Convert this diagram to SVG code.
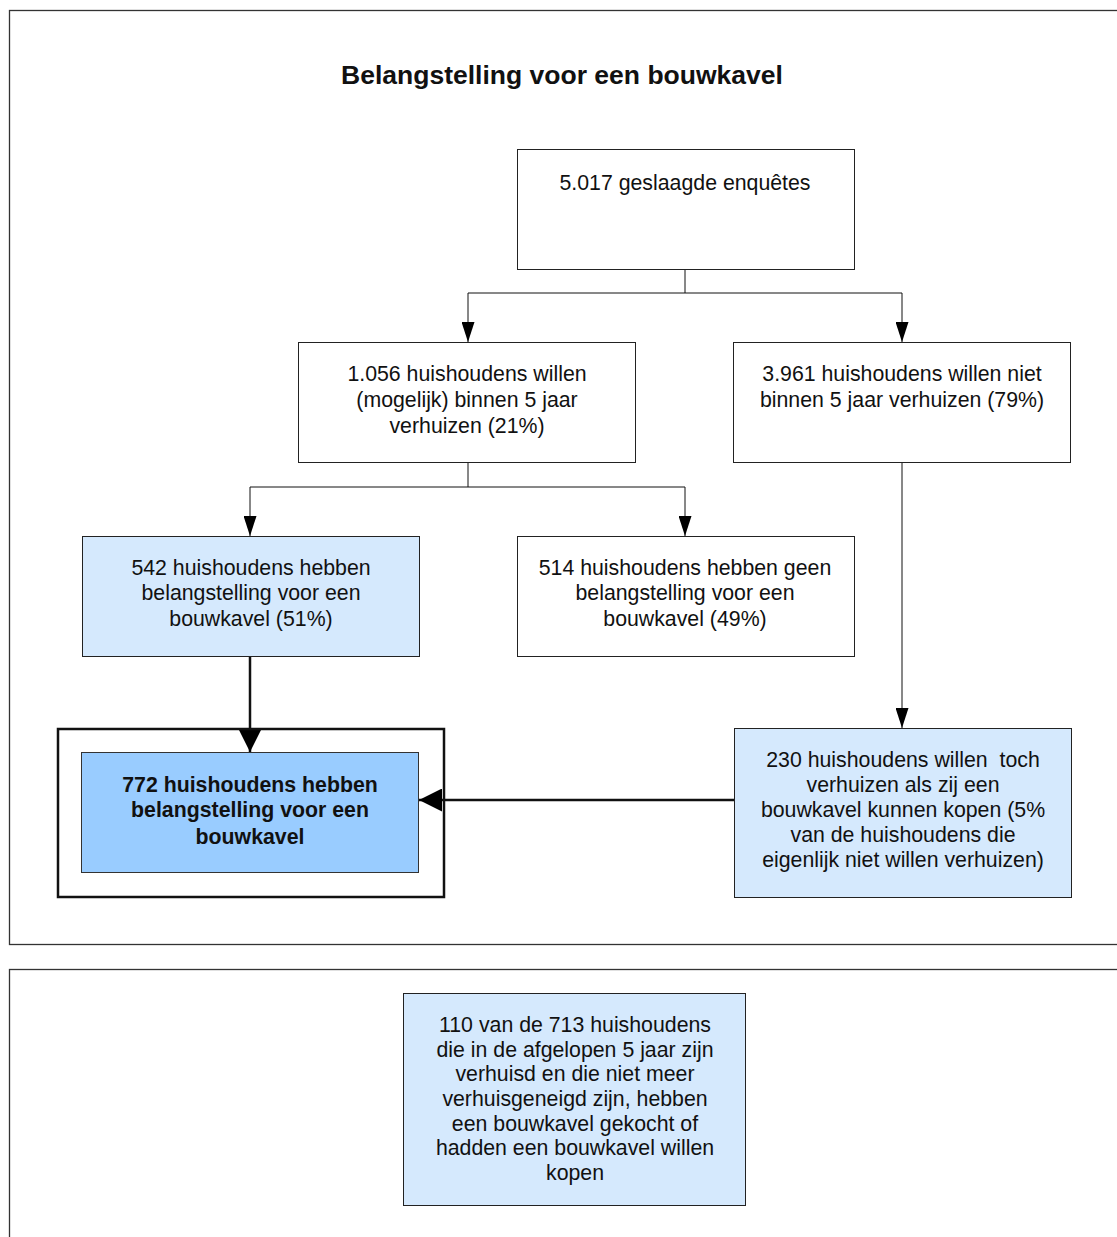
<svg xmlns="http://www.w3.org/2000/svg" width="1117" height="1237" viewBox="0 0 1117 1237">
<defs>
<style>
text{font-family:"Liberation Sans",Arial,sans-serif;font-size:21.3px;fill:#111;text-anchor:middle}
.b{fill:#fff;stroke:#222;stroke-width:1}
.lb{fill:#d5e9fd;stroke:#222;stroke-width:1}
.db{fill:#99ccff;stroke:#333;stroke-width:1}
.frame{fill:none;stroke:#333;stroke-width:1.3}
.c{fill:none;stroke:#111;stroke-width:1}
.ct{fill:none;stroke:#111;stroke-width:2.5}
.bold{font-weight:bold}
</style>
<marker id="a" viewBox="0 0 20 13" refX="20" refY="6.5" markerWidth="20" markerHeight="13" markerUnits="userSpaceOnUse" orient="auto"><path d="M0,0L20,6.5L0,13Z" fill="#000"/></marker>
<marker id="A" viewBox="0 0 23 23" refX="23" refY="11.5" markerWidth="23" markerHeight="23" markerUnits="userSpaceOnUse" orient="auto"><path d="M0,0L23,11.5L0,23Z" fill="#000"/></marker>
</defs>
<rect x="0" y="0" width="1117" height="1237" fill="#fff"/>
<rect class="frame" x="9.5" y="10.5" width="1120" height="934"/>
<rect class="frame" x="9.5" y="969.5" width="1120" height="280"/>
<text class="bold" x="562" y="84" style="font-size:26.5px">Belangstelling voor een bouwkavel</text>
<g id="connectors">
<path class="c" d="M685,269V293M468,293H902M468,293V342" marker-end="url(#a)"/>
<path class="c" d="M902,293V342" marker-end="url(#a)"/>
<path class="c" d="M468,462V487M250,487H685M250,487V536" marker-end="url(#a)"/>
<path class="c" d="M685,487V536" marker-end="url(#a)"/>
<path class="c" d="M902,462V728" marker-end="url(#a)"/>
<path class="ct" d="M250,656V752" marker-end="url(#A)"/>
<path class="ct" d="M734,800H419" marker-end="url(#A)"/>
</g>
<g id="n1"><rect class="b" x="517.5" y="149.5" width="337" height="120"/><text x="685" y="190">5.017 geslaagde enquêtes</text></g>
<g id="n2"><rect class="b" x="298.5" y="342.5" width="337" height="120"/><text x="467" y="381">1.056 huishoudens willen</text><text x="467" y="407">(mogelijk) binnen 5 jaar</text><text x="467" y="433">verhuizen (21%)</text></g>
<g id="n3"><rect class="b" x="733.5" y="342.5" width="337" height="120"/><text x="902" y="381">3.961 huishoudens willen niet</text><text x="902" y="407">binnen 5 jaar verhuizen (79%)</text></g>
<g id="n4"><rect class="lb" x="82.5" y="536.5" width="337" height="120"/><text x="251" y="575">542 huishoudens hebben</text><text x="251" y="600">belangstelling voor een</text><text x="251" y="626">bouwkavel (51%)</text></g>
<g id="n5"><rect class="b" x="517.5" y="536.5" width="337" height="120"/><text x="685" y="575">514 huishoudens hebben geen</text><text x="685" y="600">belangstelling voor een</text><text x="685" y="626">bouwkavel (49%)</text></g>
<g id="n6"><rect class="lb" x="734.5" y="728.5" width="337" height="169"/><text x="903" y="767" style="white-space:pre">230 huishoudens willen  toch</text><text x="903" y="792">verhuizen als zij een</text><text x="903" y="817">bouwkavel kunnen kopen (5%</text><text x="903" y="842">van de huishoudens die</text><text x="903" y="867">eigenlijk niet willen verhuizen)</text></g>
<g id="n7"><rect fill="none" stroke="#111" stroke-width="2.5" x="58" y="729" width="386" height="168"/><rect class="db" x="81.5" y="752.5" width="337" height="120"/><text class="bold" x="250" y="792">772 huishoudens hebben</text><text class="bold" x="250" y="817">belangstelling voor een</text><text class="bold" x="250" y="844">bouwkavel</text></g>
<g id="n8"><rect class="lb" x="403.5" y="993.5" width="342" height="212"/><text x="575" y="1032">110 van de 713 huishoudens</text><text x="575" y="1057">die in de afgelopen 5 jaar zijn</text><text x="575" y="1081">verhuisd en die niet meer</text><text x="575" y="1106">verhuisgeneigd zijn, hebben</text><text x="575" y="1131">een bouwkavel gekocht of</text><text x="575" y="1155">hadden een bouwkavel willen</text><text x="575" y="1180">kopen</text></g>
</svg>
